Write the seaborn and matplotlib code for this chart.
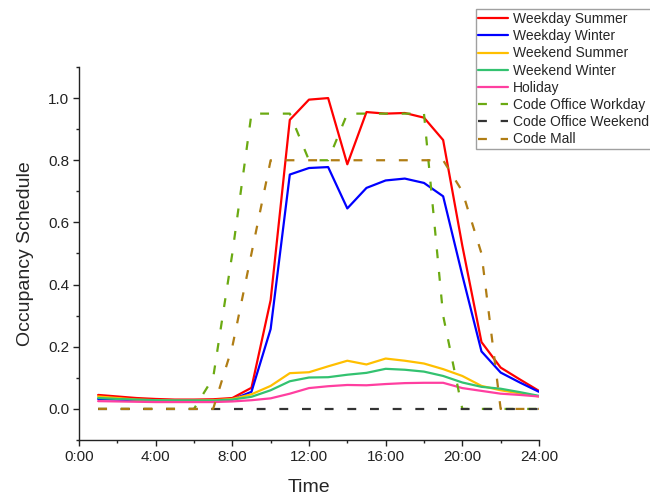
import numpy as np
import pandas as pd
import matplotlib
matplotlib.use("Agg")
import matplotlib.pyplot as plt
from matplotlib.ticker import MultipleLocator, FuncFormatter
import seaborn as sns

hours = list(range(1, 25))

weekday_summer = [0.045, 0.040, 0.035, 0.032, 0.030, 0.030, 0.031, 0.035, 0.068, 0.350,
                  0.930, 0.995, 1.000, 0.787, 0.955, 0.950, 0.952, 0.937, 0.865, 0.525,
                  0.215, 0.133, 0.095, 0.058]
weekday_winter = [0.032, 0.030, 0.028, 0.027, 0.027, 0.027, 0.027, 0.030, 0.055, 0.257,
                  0.754, 0.775, 0.778, 0.645, 0.711, 0.735, 0.741, 0.727, 0.684, 0.430,
                  0.185, 0.117, 0.085, 0.055]
weekend_summer = [0.040, 0.035, 0.030, 0.028, 0.027, 0.027, 0.028, 0.032, 0.047, 0.074,
                  0.115, 0.118, 0.137, 0.155, 0.143, 0.162, 0.155, 0.146, 0.128, 0.106,
                  0.074, 0.060, 0.050, 0.040]
weekend_winter = [0.035, 0.032, 0.030, 0.028, 0.027, 0.027, 0.027, 0.030, 0.039, 0.060,
                  0.089, 0.101, 0.102, 0.110, 0.116, 0.129, 0.126, 0.120, 0.106, 0.085,
                  0.071, 0.065, 0.054, 0.042]
holiday = [0.025, 0.024, 0.023, 0.022, 0.022, 0.022, 0.022, 0.024, 0.028, 0.034,
           0.049, 0.067, 0.073, 0.077, 0.076, 0.080, 0.083, 0.084, 0.084, 0.067,
           0.058, 0.049, 0.045, 0.040]
code_office_workday = [0, 0, 0, 0, 0, 0, 0.1, 0.5, 0.95, 0.95,
                       0.95, 0.8, 0.8, 0.95, 0.95, 0.95, 0.95, 0.95, 0.3, 0,
                       0, 0, 0, 0]
code_office_weekend = [0] * 24
code_mall = [0, 0, 0, 0, 0, 0, 0, 0.2, 0.5, 0.8,
             0.8, 0.8, 0.8, 0.8, 0.8, 0.8, 0.8, 0.8, 0.8, 0.7,
             0.5, 0, 0, 0]

labels = ["Weekday Summer", "Weekday Winter", "Weekend Summer", "Weekend Winter",
          "Holiday", "Code Office Workday", "Code Office Weekend", "Code Mall"]
series = [weekday_summer, weekday_winter, weekend_summer, weekend_winter,
          holiday, code_office_workday, code_office_weekend, code_mall]
colors = ["#FF0000", "#0000FF", "#FFBF00", "#33C270", "#FF3FA0",
          "#6BAA12", "#333333", "#B07D14"]
dashed = [False, False, False, False, False, True, True, True]

sns.set_style("ticks")
plt.rcParams['font.family'] = ['Liberation Sans', 'DejaVu Sans']

fig = plt.figure(figsize=(6.5, 4.97), dpi=100)
ax = fig.add_axes([0.1215, 0.1147, 0.8292 - 0.1215, 0.8652 - 0.1147])

handles = []
for lab, vals, col, dsh in zip(labels, series, colors, dashed):
    df = pd.DataFrame({"Time": hours, "Occupancy": vals})
    sns.lineplot(data=df, x="Time", y="Occupancy", ax=ax, color=col, lw=1.6,
                 label=lab, legend=False)
    line = ax.lines[-1]
    if dsh:
        line.set_dashes((4, 6.2))
    handles.append(line)

ax.set_xlim(0, 24)
ax.set_ylim(-0.1, 1.1)
ax.xaxis.set_major_locator(MultipleLocator(4))
ax.xaxis.set_minor_locator(MultipleLocator(2))
ax.yaxis.set_major_locator(MultipleLocator(0.2))
ax.yaxis.set_minor_locator(MultipleLocator(0.1))
ax.xaxis.set_major_formatter(FuncFormatter(lambda v, p: f"{int(round(v))}:00"))
ax.yaxis.set_major_formatter(FuncFormatter(lambda v, p: f"{v:.1f}" if v > -0.05 else ""))
ax.tick_params(axis="both", which="major", direction="out", length=4, width=1.0,
               labelsize=11, colors="#222222", pad=3)
ax.tick_params(axis="both", which="minor", direction="out", length=2.5, width=1.0,
               colors="#222222")
for sp in ["top", "right"]:
    ax.spines[sp].set_visible(False)
for sp in ["left", "bottom"]:
    ax.spines[sp].set_linewidth(1.0)
    ax.spines[sp].set_color("#222222")

ax.set_xlabel("Time", fontsize=14, labelpad=11)
ax.set_ylabel("Occupancy Schedule", fontsize=14, labelpad=10)

leg = ax.legend(handles=handles, labels=labels, loc="upper left",
                bbox_to_anchor=(475.5 / 650, 1 - 9.3 / 497), bbox_transform=fig.transFigure,
                fontsize=10, frameon=True, fancybox=False, borderpad=0.2,
                labelspacing=0.23, handlelength=2.15, handletextpad=0.36,
                borderaxespad=0)
leg.get_frame().set_edgecolor("#888888")
leg.get_frame().set_linewidth(1.0)

fig.savefig("out.png", dpi=100)
